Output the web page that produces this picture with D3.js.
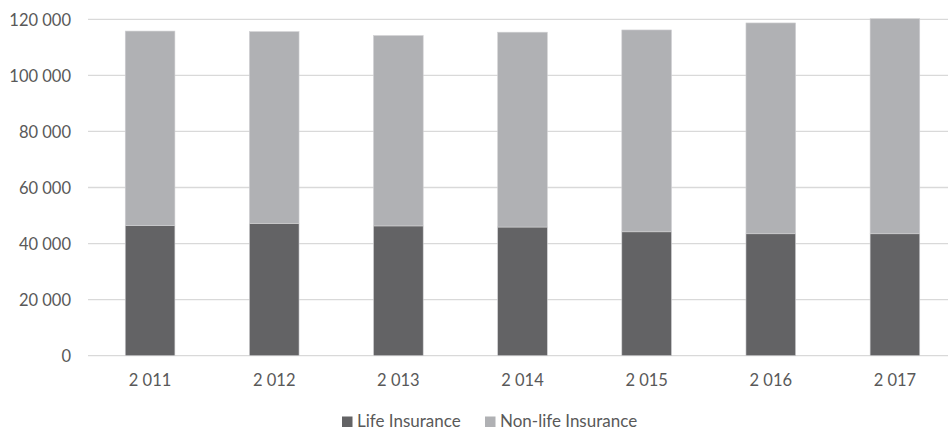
<!DOCTYPE html>
<html><head><meta charset="utf-8">
<script src="https://cdn.jsdelivr.net/npm/d3@7"></script>
<style>
html,body{margin:0;padding:0;background:#fff;}
svg{display:block;}
text{font-family:Lato,"Open Sans",sans-serif;fill:#595959;}
</style></head>
<body>
<svg id="chart" width="948" height="430"></svg>
<script>
const years = [2011, 2012, 2013, 2014, 2015, 2016, 2017];
const lifeInsurance = [46400, 47200, 46300, 45900, 44200, 43500, 43500];
const nonLifeInsurance = [69400, 68400, 67900, 69500, 72000, 75200, 76700];
const yTicks = [0, 20000, 40000, 60000, 80000, 100000, 120000];
const seriesNames = ["Life Insurance", "Non-life Insurance"];
const seriesColors = ["#636365", "#b0b1b4"];

const locale = d3.formatLocale({decimal: ",", thousands: "\u00a0", grouping: [3], currency: ["", ""]});
const fmt = locale.format(",d");
const FONT = "Lato, 'Open Sans', sans-serif";
const FS = 16.5;

const svg = d3.select("#chart");
const x = d3.scaleBand().domain(years).range([88, 957]).paddingInner(0.6).paddingOuter(0.3);
const y = d3.scaleLinear().domain([0, 120000]).range([355.7, 19.3]);

// gridlines
svg.append("g").selectAll("line").data(yTicks).join("line")
  .attr("x1", 88).attr("x2", 957)
  .attr("y1", d => y(d)).attr("y2", d => y(d))
  .attr("stroke", "#d9d9d9").attr("stroke-width", 1.3);

// y axis labels
const yAxis = d3.axisLeft(y).tickValues(yTicks).tickFormat(fmt).tickSize(0).tickPadding(0);
const yg = svg.append("g").attr("transform", "translate(71,0)").call(yAxis);
yg.select(".domain").remove();
yg.selectAll("text").attr("font-size", FS).attr("fill", "#595959").attr("font-family", FONT).attr("dy", "0.35em");

// stacked data
const data = years.map((yr, i) => ({year: yr, life: lifeInsurance[i], nonlife: nonLifeInsurance[i]}));
const stack = d3.stack().keys(["life", "nonlife"]);
const stacked = stack(data);

svg.append("g").selectAll("g").data(stacked).join("g")
  .attr("fill", (d, i) => seriesColors[i])
  .selectAll("rect").data(d => d).join("rect")
  .attr("x", d => x(d.data.year))
  .attr("width", x.bandwidth())
  .attr("y", d => y(d[1]))
  .attr("height", d => y(d[0]) - y(d[1]))
  .attr("stroke", "#d0d0d2").attr("stroke-width", 0.6);

// x axis labels
const xAxis = d3.axisBottom(x).tickFormat(d => fmt(d)).tickSize(0).tickPadding(0);
const xg = svg.append("g").attr("transform", "translate(0,374)").call(xAxis);
xg.select(".domain").remove();
xg.selectAll("text").attr("font-size", FS).attr("fill", "#595959").attr("font-family", FONT).attr("dy", "0.71em");

// legend
const legendX = [342, 485];
const lg = svg.append("g");
seriesNames.forEach((name, i) => {
  lg.append("rect").attr("x", legendX[i]).attr("y", 416.5).attr("width", 10.5).attr("height", 10.5).attr("fill", seriesColors[i]);
  lg.append("text").attr("x", legendX[i] + 15).attr("y", 421.5).attr("dy", "0.35em")
    .attr("font-size", 17).attr("font-family", FONT).text(name);
});
</script>
</body></html>
